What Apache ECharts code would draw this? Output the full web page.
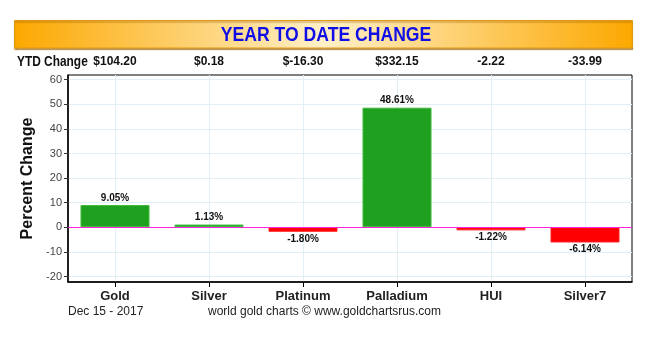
<!DOCTYPE html>
<html><head><meta charset="utf-8">
<script src="https://cdn.jsdelivr.net/npm/echarts@6/dist/echarts.min.js"></script>
<style>html,body{margin:0;padding:0;background:#fff}#c{width:654px;height:343px}</style>
</head><body><div id="c"></div>
<script>
const categories = ['Gold', 'Silver', 'Platinum', 'Palladium', 'HUI', 'Silver7'];
const percentChange = [9.05, 1.13, -1.80, 48.61, -1.22, -6.14];
const ytdChange = ['$104.20', '$0.18', '$-16.30', '$332.15', '-2.22', '-33.99'];
const yTicks = [-20, -10, 0, 10, 20, 30, 40, 50, 60];
const titleText = 'YEAR TO DATE CHANGE';
const dateText = 'Dec 15 - 2017';
const creditText = 'world gold charts \u00A9 www.goldchartsrus.com';

const chart = echarts.init(document.getElementById('c'), null, {renderer: 'canvas'});
const font = 'Arial, "Liberation Sans", sans-serif';

const barData = percentChange.map(v => ({
  value: v,
  itemStyle: {color: v >= 0 ? '#1fa01f' : '#ff0000', borderColor: v >= 0 ? '#3cb83c' : '#ff2020', borderWidth: 1},
  label: {position: v >= 0 ? 'top' : 'bottom'}
}));

chart.setOption({
  animation: false,
  backgroundColor: '#fff',
  grid: {left: 68, right: 22, top: 75, bottom: 61, show: true, borderColor: '#000', borderWidth: 1},
  graphic: [
    {type: 'rect', shape: {x: 14.5, y: 20.5, width: 618, height: 27.5},
     style: {fill: new echarts.graphic.LinearGradient(0, 0, 1, 0, [
       {offset: 0, color: '#fca800'}, {offset: 0.5, color: '#fff0c8'}, {offset: 1, color: '#fca800'}]),
       stroke: '#e09a10', lineWidth: 1, shadowColor: 'rgba(150,90,0,0.6)', shadowOffsetY: 1.5, shadowBlur: 1}},
    {type: 'text', x: 326, y: 35, scaleX: 0.88,
     style: {text: titleText, x: 0, y: 0, align: 'center', verticalAlign: 'middle',
       fill: '#0f0fe6', font: 'bold 20px ' + font}},
    {type: 'text', x: 17, y: 62, scaleX: 0.85,
     style: {text: 'YTD Change', x: 0, y: 0, verticalAlign: 'middle', fill: '#111', font: 'bold 14px ' + font}},
    {type: 'text', left: 68, top: 306,
     style: {text: dateText, fill: '#222', font: '12px ' + font}},
    {type: 'text', left: 208, top: 306,
     style: {text: creditText, fill: '#222', font: '12px ' + font}}
  ],
  xAxis: [{
    type: 'category', data: categories, position: 'bottom',
    axisLine: {show: true, onZero: false, lineStyle: {color: '#000', width: 1.5}},
    axisTick: {show: true, alignWithLabel: true, length: 5, lineStyle: {color: '#000'}},
    axisLabel: {color: '#222', fontWeight: 'bold', fontSize: 13, fontFamily: font, margin: 8},
    splitLine: {show: true, alignWithLabel: true, lineStyle: {color: '#e2eff6', width: 1}}
  }, {
    type: 'category', data: ytdChange, position: 'top',
    axisLine: {show: false, onZero: false}, axisTick: {show: false},
    axisLabel: {color: '#111', fontWeight: 'bold', fontSize: 12, fontFamily: font, margin: 7},
    splitLine: {show: false}
  }],
  yAxis: {
    type: 'value', min: -22.2, max: 61.9,
    name: 'Percent Change', nameLocation: 'middle', nameGap: 32,
    nameTextStyle: {color: '#111', fontWeight: 'bold', fontSize: 16, fontFamily: font},
    axisLine: {show: true, lineStyle: {color: '#000', width: 1.5}},
    axisTick: {show: true, length: 4, customValues: yTicks, lineStyle: {color: '#333'}},
    axisLabel: {color: '#444', fontSize: 11, fontFamily: font, margin: 6, customValues: yTicks},
    splitLine: {show: true, lineStyle: {color: '#e2eff6', width: 1}}
  },
  series: [{
    type: 'bar', xAxisIndex: 0, data: barData, barWidth: 69,
    label: {show: true, formatter: p => p.value.toFixed(2) + '%', color: '#111',
      fontWeight: 'bold', fontSize: 10, fontFamily: font, distance: 2},
    markLine: {silent: true, symbol: 'none', label: {show: false},
      lineStyle: {color: '#ff22dd', type: 'solid', width: 1.2},
      data: [{yAxis: 0}]}
  }, {
    type: 'bar', xAxisIndex: 1, data: [], silent: true
  }]
});
</script></body></html>
